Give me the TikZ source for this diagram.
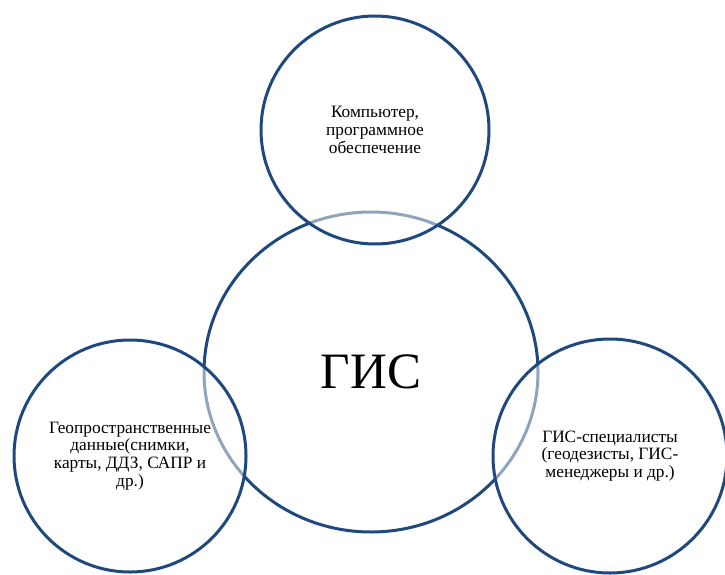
\documentclass[tikz,border=0pt]{standalone}
\usepackage{fontspec}
\setmainfont{Liberation Serif}
\usetikzlibrary{shapes.geometric}
\definecolor{ringblue}{HTML}{1F497D}
\begin{document}
\begin{tikzpicture}[x=1pt,y=-1pt,
    ring/.style={circle,draw=ringblue,line width=3pt,inner sep=0pt,align=center,
      font=\fontsize{17.3}{17.8}\selectfont},
    overring/.style={ring,fill=white,fill opacity=0.5,text opacity=1}]
  \useasboundingbox (0,0) rectangle (725,575);
  \node[ellipse,draw=ringblue,line width=3pt,minimum width=334pt,minimum height=320pt,
    font=\fontsize{51}{60}\selectfont] (gis) at (371,372) {ГИС};
  \node[overring,minimum size=228pt] (comp) at (375,130) {Компьютер,\\программное\\обеспечение};
  \node[overring,minimum size=232pt] (geo) at (130,456) {Геопространственные\\данные(снимки,\\карты, ДДЗ, САПР и\\др.)};
  \node[overring,minimum size=234pt] (spec) at (610,456) {ГИС-специалисты\\(геодезисты, ГИС-\\менеджеры и др.)};
\end{tikzpicture}
\end{document}
